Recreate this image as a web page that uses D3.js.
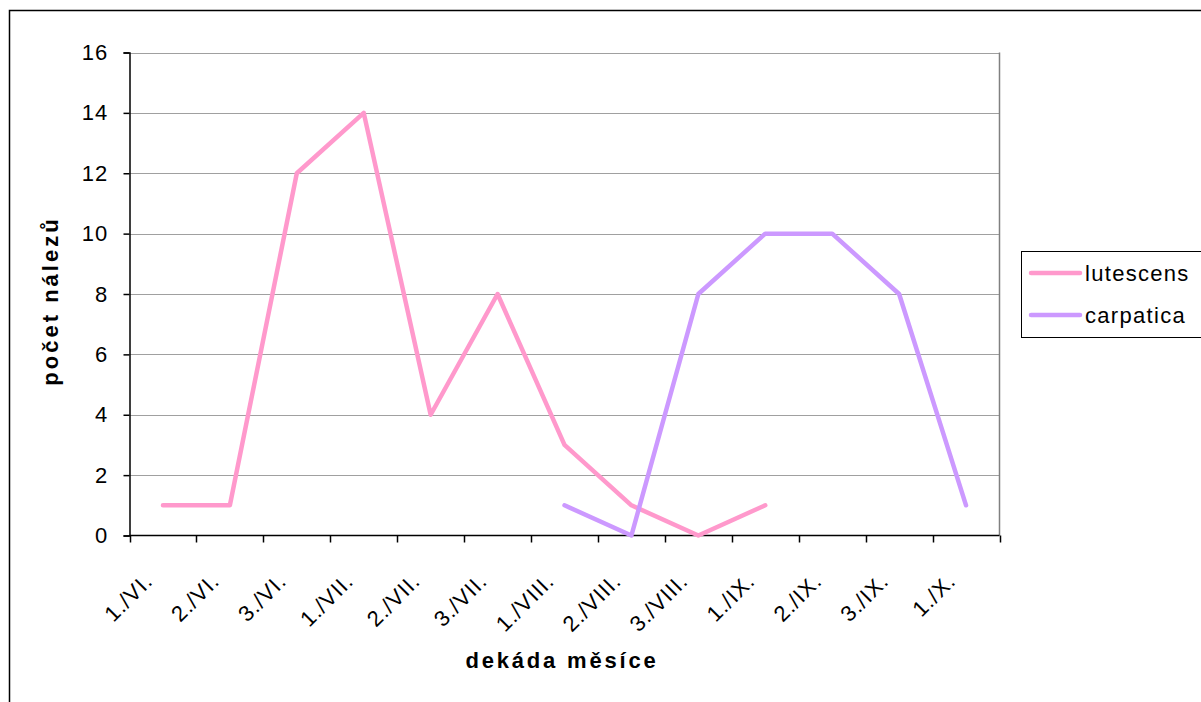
<!DOCTYPE html>
<html>
<head>
<meta charset="utf-8">
<script src="https://cdn.jsdelivr.net/npm/d3@7"></script>
<style>
  body { margin: 0; background: #fff; }
  svg { display: block; font-family: Arial, "Liberation Sans", sans-serif; }
</style>
</head>
<body>
<div id="chart"></div>
<script>
// categories (decades of month) and series values
var categories = ["1./VI.", "2./VI.", "3./VI.", "1./VII.", "2./VII.", "3./VII.", "1./VIII.", "2./VIII.", "3./VIII.", "1./IX.", "2./IX.", "3./IX.", "1./X."];
var lutescens = [1, 1, 12, 14, 4, 8, 3, 1, 0, 1, null, null, null];
var carpatica = [null, null, null, null, null, null, 1, 0, 8, 10, 10, 8, 1];
var seriesNames = ["lutescens", "carpatica"];
var seriesColors = ["#ff99cc", "#cc99ff"];
var yTicks = [0, 2, 4, 6, 8, 10, 12, 14, 16];

var svgWidth = 1201, svgHeight = 702;
var plot = { left: 129.5, right: 999.5, top: 52.5, bottom: 535.5 };

var svg = d3.select("#chart").append("svg")
  .attr("width", svgWidth)
  .attr("height", svgHeight);

// outer chart frame
svg.append("rect")
  .attr("x", 9.5).attr("y", 10.5)
  .attr("width", 1200).attr("height", 700)
  .attr("fill", "none").attr("stroke", "#000").attr("stroke-width", 1.5);

var x = d3.scaleBand().domain(categories).range([plot.left, plot.right]);
var y = d3.scaleLinear().domain([0, 16]).range([plot.bottom, plot.top]);

// gridlines
svg.append("g").selectAll("line")
  .data(yTicks.filter(d => d > 0))
  .enter().append("line")
  .attr("x1", plot.left).attr("x2", plot.right)
  .attr("y1", d => Math.round(y(d)) + 0.5).attr("y2", d => Math.round(y(d)) + 0.5)
  .attr("stroke", "#a0a0a0").attr("stroke-width", 1);

// right border of plot
svg.append("line")
  .attr("x1", plot.right).attr("x2", plot.right)
  .attr("y1", plot.top).attr("y2", plot.bottom)
  .attr("stroke", "#808080").attr("stroke-width", 1.5);

// y axis
var leftAxis = d3.axisLeft(y).tickValues(yTicks).tickSize(6).tickPadding(15);
var gy = svg.append("g")
  .attr("transform", `translate(${plot.left},0)`)
  .call(leftAxis);
gy.select(".domain").attr("stroke", "#000").attr("stroke-width", 1.5);
gy.selectAll(".tick line").attr("stroke", "#000").attr("stroke-width", 1.5);
gy.selectAll(".tick text")
  .attr("font-size", "22px")
  .attr("letter-spacing", "1.2px")
  .attr("font-family", "Arial, 'Liberation Sans', sans-serif")
  .attr("fill", "#000");

// x axis: ticks at category boundaries
var gx = svg.append("g").attr("transform", `translate(0,${plot.bottom})`);
gx.append("line")
  .attr("x1", plot.left).attr("x2", plot.right)
  .attr("stroke", "#000").attr("stroke-width", 1.5);
var bounds = categories.map(c => x(c)).concat([plot.right]);
gx.selectAll("line.tk").data(bounds).enter().append("line")
  .attr("class", "tk")
  .attr("x1", d => Math.round(d) + 0.5).attr("x2", d => Math.round(d) + 0.5)
  .attr("y1", 0).attr("y2", 7)
  .attr("stroke", "#000").attr("stroke-width", 1.5);
gx.selectAll("text").data(categories).enter().append("text")
  .attr("transform", d => `translate(${x(d) + x.bandwidth() / 2 - 9},${47}) rotate(-45)`)
  .attr("text-anchor", "end")
  .attr("font-size", "22px")
  .attr("letter-spacing", "1px")
  .attr("fill", "#000")
  .text(d => d);

// lines
var line = d3.line()
  .defined(d => d.v != null)
  .x(d => x(d.c) + x.bandwidth() / 2)
  .y(d => y(d.v));

[lutescens, carpatica].forEach(function(vals, i) {
  var pts = categories.map((c, j) => ({ c: c, v: vals[j] }));
  svg.append("path")
    .datum(pts)
    .attr("d", line)
    .attr("fill", "none")
    .attr("stroke", seriesColors[i])
    .attr("stroke-width", 4.5)
    .attr("stroke-linejoin", "round")
    .attr("stroke-linecap", "round");
});

// axis titles
svg.append("text")
  .attr("transform", "translate(58,301) rotate(-90)")
  .attr("text-anchor", "middle")
  .attr("font-size", "22px").attr("font-weight", "bold")
  .attr("letter-spacing", "3px")
  .text("počet nálezů");

svg.append("text")
  .attr("x", 562).attr("y", 668)
  .attr("text-anchor", "middle")
  .attr("font-size", "22px").attr("font-weight", "bold")
  .attr("letter-spacing", "2.8px")
  .text("dekáda měsíce");

// legend
var legend = svg.append("g");
legend.append("rect")
  .attr("x", 1021.5).attr("y", 251.5)
  .attr("width", 190).attr("height", 86)
  .attr("fill", "#fff").attr("stroke", "#000").attr("stroke-width", 1);
seriesNames.forEach(function(name, i) {
  var ly = 273 + i * 42;
  legend.append("line")
    .attr("x1", 1031).attr("x2", 1080)
    .attr("y1", ly).attr("y2", ly)
    .attr("stroke", seriesColors[i]).attr("stroke-width", 4.5)
    .attr("stroke-linecap", "round");
  legend.append("text")
    .attr("x", 1085).attr("y", ly + 8)
    .attr("font-size", "22px")
    .attr("letter-spacing", "1.3px")
    .text(name);
});
</script>
</body>
</html>
